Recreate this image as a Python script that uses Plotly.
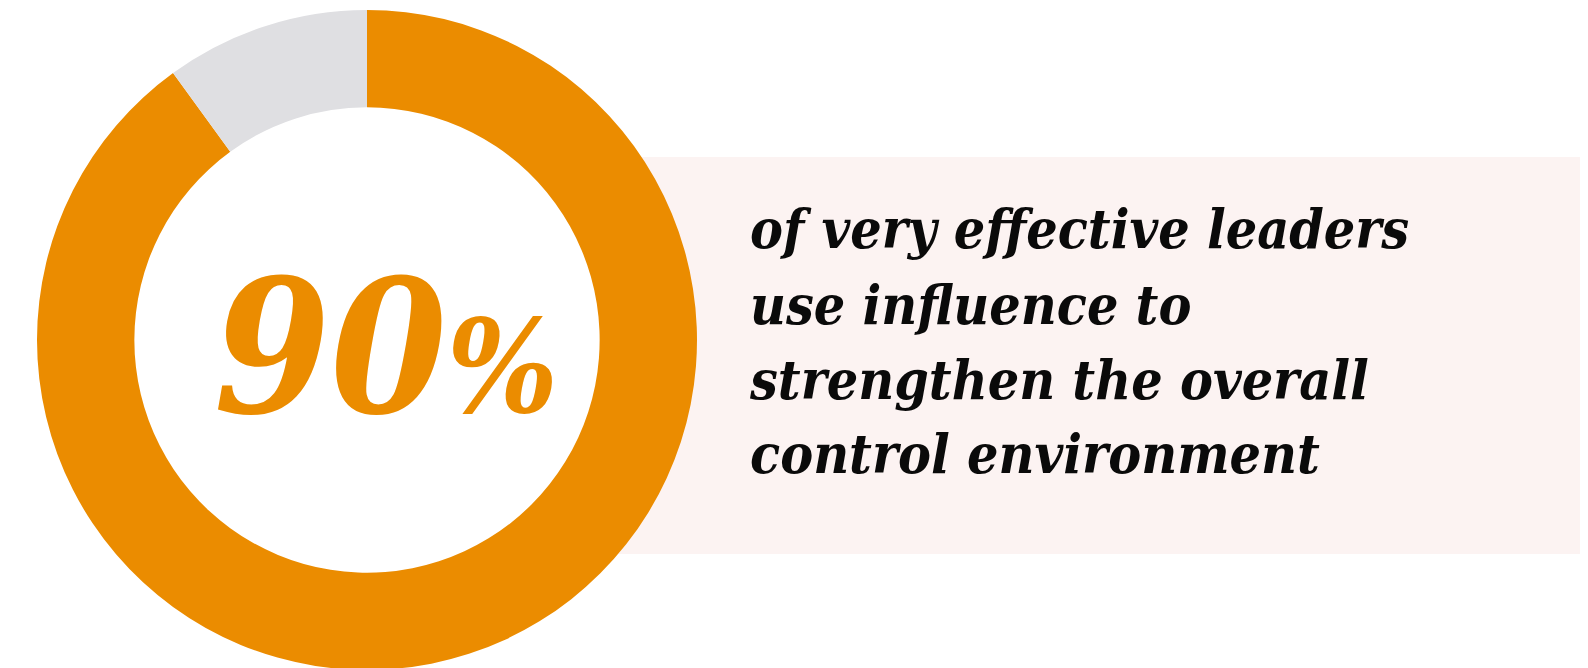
import plotly.graph_objects as go

# Data
categories = ["Very effective leaders using influence", "Others"]
values = [90, 10]
colors = ["#EB8C00", "#DFDFE2"]
big_number = "90"
big_unit = "%"
caption_lines = [
    "of very effective leaders",
    "use influence to",
    "strengthen the overall",
    "control environment",
]

W, H = 1588, 668
CX, CY, D = 359, 332, 660
fig = go.Figure()
fig.add_trace(go.Pie(
    labels=categories,
    values=values,
    marker=dict(colors=colors, line=dict(width=0)),
    hole=0.705,
    sort=False,
    direction="clockwise",
    rotation=0,
    textinfo="none",
    hoverinfo="label+percent",
    showlegend=False,
    domain=dict(x=[(CX - D / 2) / W, (CX + D / 2) / W],
                y=[1 - (CY + D / 2) / H, 1 - (CY - D / 2) / H]),
))

# pink background panel (left edge hidden under donut ring)
fig.add_shape(type="rect", xref="paper", yref="paper",
              x0=560 / W, x1=1573 / W, y0=1 - 546 / H, y1=1 - 149 / H,
              fillcolor="#FCF3F2", line=dict(width=0), layer="below")
# white disk under the donut hole
fig.add_shape(type="circle", xref="paper", yref="paper",
              x0=(362 - 240) / W, x1=(362 + 240) / W,
              y0=1 - (336 + 240) / H, y1=1 - (336 - 240) / H,
              fillcolor="white", line=dict(width=0), layer="below")

FONT = "DejaVu Serif Condensed"
fig.add_annotation(
    xref="paper", yref="paper", x=378 / W, y=1 - 338 / H,
    xanchor="center", yanchor="middle", showarrow=False,
    text=f"<b><i>{big_number}<span style='font-size:130px'>{big_unit}</span></i></b>",
    font=dict(family=FONT, size=186, color="#EB8C00"),
)

line_centers = [220, 297, 372, 445]
for line, yc in zip(caption_lines, line_centers):
    fig.add_annotation(
        xref="paper", yref="paper", x=740 / W, y=1 - yc / H,
        xanchor="left", yanchor="middle", align="left", showarrow=False,
        text="<b><i>" + line + "</i></b>",
        font=dict(family=FONT, size=55, color="#0a0a0a"),
    )

fig.update_layout(
    width=W, height=H,
    margin=dict(l=0, r=0, t=0, b=0),
    paper_bgcolor="white", plot_bgcolor="white",
)
fig.write_html("out.html")
